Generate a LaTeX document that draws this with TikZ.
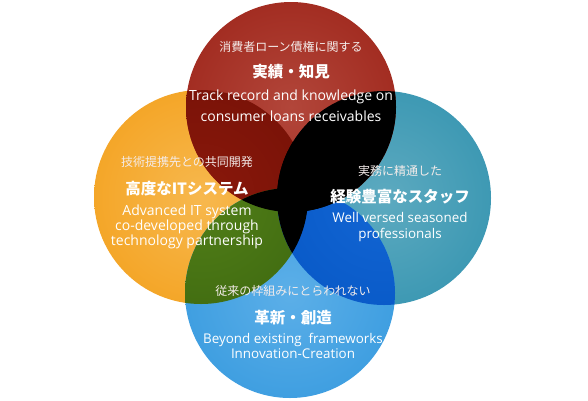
\documentclass[tikz,border=0pt]{standalone}
\usepackage{fontspec}
\setmainfont{Open Sans}
\newfontfamily\jp{Noto Sans CJK JP}
\definecolor{rc}{HTML}{B2463A}\definecolor{rm}{HTML}{A12A1F}\definecolor{re}{HTML}{8A1D17}
\definecolor{oc}{HTML}{F7B84E}\definecolor{om}{HTML}{F4A424}\definecolor{oe}{HTML}{F29A14}
\definecolor{tc}{HTML}{5DAAC0}\definecolor{tm}{HTML}{3A97B2}\definecolor{te}{HTML}{2B8AA7}
\definecolor{bc}{HTML}{5CAFE8}\definecolor{bm}{HTML}{3C9DE0}\definecolor{be}{HTML}{2A90D8}
\definecolor{drc}{HTML}{8A180B}\definecolor{dre}{HTML}{6C0E05}
\definecolor{gc}{HTML}{527F18}\definecolor{ge}{HTML}{345E0C}
\definecolor{dbc}{HTML}{1366D4}\definecolor{dbe}{HTML}{0050BE}
\definecolor{jpw}{HTML}{F4ECEA}
\pgfdeclareradialshading{shr}{\pgfpoint{0bp}{0bp}}{color(0bp)=(rc); color(28bp)=(rm); color(50bp)=(re)}
\pgfdeclareradialshading{sho}{\pgfpoint{0bp}{0bp}}{color(0bp)=(oc); color(28bp)=(om); color(50bp)=(oe)}
\pgfdeclareradialshading{sht}{\pgfpoint{0bp}{0bp}}{color(0bp)=(tc); color(28bp)=(tm); color(50bp)=(te)}
\pgfdeclareradialshading{shb}{\pgfpoint{0bp}{0bp}}{color(0bp)=(bc); color(28bp)=(bm); color(50bp)=(be)}
\pgfdeclareradialshading{shdr}{\pgfpoint{0bp}{0bp}}{color(0bp)=(drc); color(50bp)=(dre)}
\pgfdeclareradialshading{shg}{\pgfpoint{0bp}{0bp}}{color(0bp)=(gc); color(50bp)=(ge)}
\pgfdeclareradialshading{shdb}{\pgfpoint{0bp}{0bp}}{color(0bp)=(dbc); color(50bp)=(dbe)}
\tikzset{
  jpsub/.style={text=jpw, font=\jp\fontsize{12}{14}\selectfont, inner sep=0pt},
  jphead/.style={text=white, font=\jp\bfseries\fontsize{15.5}{18}\selectfont, inner sep=0pt},
  entext/.style={text=white, font=\fontsize{14}{15}\selectfont, align=center, inner sep=0pt},
}
\begin{document}
\begin{tikzpicture}[x=1pt,y=-1pt]
\useasboundingbox[fill=white] (0,0) rectangle (588,400);
% base circles
\shade[shading=sho] (201,197) circle[radius=107pt];
\shade[shading=sht] (384,198) circle[radius=107pt];
\shade[shading=shr] (291,107) circle[radius=105pt];
\shade[shading=shb] (290,293) circle[radius=105pt];
% red & orange
\begin{scope}
\clip (291,107) circle[radius=105pt];
\shade[shading=shdr] (201,197) circle[radius=107pt];
\end{scope}
% orange & blue
\begin{scope}
\clip (290,293) circle[radius=105pt];
\shade[shading=shg] (201,197) circle[radius=107pt];
\end{scope}
% teal & blue
\begin{scope}
\clip (290,293) circle[radius=105pt];
\shade[shading=shdb] (384,198) circle[radius=107pt];
\end{scope}
% black overlaps
\begin{scope}
\clip (384,198) circle[radius=107pt];
\fill[black] (291,107) circle[radius=105pt];
\fill[black] (201,197) circle[radius=107pt];
\end{scope}
\begin{scope}
\clip (291,107) circle[radius=105pt];
\fill[black] (290,293) circle[radius=105pt];
\end{scope}
% texts
\node[jpsub] (t1) at (291,47) {消費者ローン債権に関する};
\node[jphead] (h1) at (291,72) {実績・知見};
\node[entext, font=\fontsize{14}{21}\selectfont] (e1) at (291,106) {Track record and knowledge on\\consumer loans receivables};
\node[jpsub] (t2) at (187,162) {技術提携先との共同開発};
\node[jphead] (h2) at (187,189) {高度なITシステム};
\node[entext] (e2) at (187,227) {Advanced IT system\\co-developed through\\technology partnership};
\node[jpsub] (t3) at (400,171) {実務に精通した};
\node[jphead] (h3) at (400,197) {経験豊富なスタッフ};
\node[entext, font=\fontsize{13.4}{16}\selectfont] (e3) at (400,227) {Well versed seasoned\\professionals};
\node[jpsub] (t4) at (293,291) {従来の枠組みにとらわれない};
\node[jphead] (h4) at (293,318) {革新・創造};
\node[entext, font=\fontsize{13.4}{15}\selectfont] (e4) at (293,346) {Beyond existing\ \ frameworks\\Innovation-Creation};
\end{tikzpicture}
\end{document}
